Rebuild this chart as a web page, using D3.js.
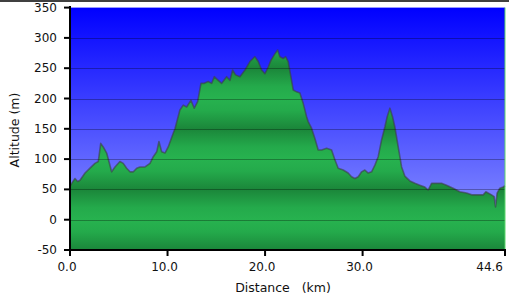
<!DOCTYPE html>
<html>
<head>
<meta charset="utf-8">
<script src="https://cdn.jsdelivr.net/npm/d3@7"></script>
<style>
  html, body { margin: 0; padding: 0; background: #fff; }
  svg { display: block; font-family: "DejaVu Sans", Verdana, sans-serif; }
</style>
</head>
<body>
<div id="chart"></div>
<script>
// Chart size and plot box
const width = 509;
const height = 301;
const marginLeft = 70;
const marginRight = 4;
const plotTop = 7.6;
const plotBottom = 250;

// Profile data: distance (km) and altitude (m)
const distKm = [0.0, 0.17, 0.51, 0.79, 1.02, 1.54, 2.05, 2.56, 2.90, 3.15, 3.41, 3.76, 4.27, 4.61, 5.12, 5.46, 5.81, 6.15, 6.49, 6.84,
  7.17, 7.69, 8.20, 8.54, 8.89, 9.12, 9.40, 9.74, 10.07, 10.59, 10.76, 11.27, 11.61, 11.96, 12.40, 12.74, 13.09, 13.43, 13.76, 14.17,
  14.52, 14.79, 15.20, 15.55, 16.06, 16.40, 16.67, 16.98, 17.42, 17.94, 18.45, 18.96, 19.30, 19.65, 19.99, 20.32, 20.60, 20.94, 21.29, 21.52,
  21.86, 22.11, 22.37, 22.65, 22.89, 23.23, 23.57, 23.91, 24.26, 24.42, 24.77, 25.11, 25.45, 25.80, 26.31, 26.82, 27.16, 27.50, 28.01, 28.52,
  28.87, 29.21, 29.55, 29.90, 30.23, 30.57, 30.92, 31.26, 31.60, 31.95, 32.28, 32.52, 32.80, 33.07, 33.31, 33.65, 34.00, 34.33, 34.85, 35.36,
  35.87, 36.38, 36.72, 37.07, 37.58, 38.09, 38.61, 39.28, 39.97, 40.66, 41.19, 41.85, 42.36, 42.64, 42.87, 43.22, 43.49, 43.63, 43.79, 44.07,
  44.41, 44.6];
const altM = [55, 60, 68, 63, 65, 77, 85, 93, 96, 126, 120, 110, 79, 87, 96, 93, 85, 79, 79, 85,
  87, 87, 93, 104, 112, 129, 112, 110, 120, 143, 150, 181, 189, 186, 197, 184, 195, 225, 225, 228,
  225, 236, 230, 225, 236, 230, 247, 239, 236, 247, 261, 269, 261, 247, 241, 252, 263, 272, 280, 269,
  266, 269, 261, 236, 214, 211, 209, 192, 170, 162, 151, 134, 115, 115, 118, 115, 99, 85, 82, 77,
  71, 68, 71, 79, 82, 77, 79, 90, 104, 132, 153, 170, 184, 170, 153, 120, 87, 72, 64, 60,
  57, 54, 49, 60, 60, 60, 57, 52, 46, 44, 41, 41, 41, 46, 44, 41, 38, 21, 44, 52,
  54, 56];

// Axis ticks
const xTicks = [0, 10, 20, 30, 44.6];
const yTicks = [-50, 0, 50, 100, 150, 200, 250, 300, 350];

const points = distKm.map((d, i) => ({ km: d, alt: altM[i] }));

const x = d3.scaleLinear().domain([0, 44.6]).range([marginLeft, width - marginRight]);
const y = d3.scaleLinear().domain([-50, 350]).range([plotBottom, plotTop]);

const svg = d3.select("#chart")
  .append("svg")
  .attr("width", width)
  .attr("height", height);

const defs = svg.append("defs");

// sky gradient
const sky = defs.append("linearGradient")
  .attr("id", "sky")
  .attr("gradientUnits", "userSpaceOnUse")
  .attr("x1", 0).attr("x2", 0)
  .attr("y1", plotTop).attr("y2", plotBottom);
sky.append("stop").attr("offset", 0).attr("stop-color", "#0000ff");
sky.append("stop").attr("offset", 1).attr("stop-color", "#9aa3ff");

// green bands, repeating every 100 m
const ground = defs.append("linearGradient")
  .attr("id", "ground")
  .attr("gradientUnits", "userSpaceOnUse")
  .attr("spreadMethod", "repeat")
  .attr("x1", 0).attr("x2", 0)
  .attr("y1", y(0)).attr("y2", y(-100));
ground.append("stop").attr("offset", 0).attr("stop-color", "#27b24f");
ground.append("stop").attr("offset", 0.2).attr("stop-color", "#24aa4b");
ground.append("stop").attr("offset", 0.5).attr("stop-color", "#1b863a");
ground.append("stop").attr("offset", 0.8).attr("stop-color", "#24aa4b");
ground.append("stop").attr("offset", 1).attr("stop-color", "#27b24f");

// border line on top
svg.append("line")
  .attr("x1", 0).attr("x2", width)
  .attr("y1", 1).attr("y2", 1)
  .style("stroke", "#000")
  .style("stroke-width", 1.5);

// plot background
svg.append("rect")
  .attr("x", x(0))
  .attr("y", plotTop)
  .attr("width", x(44.6) - x(0))
  .attr("height", plotBottom - plotTop)
  .attr("fill", "url(#sky)");

// filled profile
const area = d3.area()
  .x(d => x(d.km))
  .y0(y(-50))
  .y1(d => y(d.alt));

svg.append("path")
  .datum(points)
  .attr("d", area)
  .attr("fill", "url(#ground)");

const line = d3.line()
  .x(d => x(d.km))
  .y(d => y(d.alt));

svg.append("path")
  .datum(points)
  .attr("d", line)
  .attr("fill", "none")
  .style("stroke", "rgba(60,60,70,0.6)")
  .style("stroke-width", 1.6)
  .style("stroke-linejoin", "round");

// grid lines
svg.selectAll("line.grid")
  .data(yTicks.filter(d => d > -50 && d < 350))
  .enter()
  .append("line")
  .attr("class", "grid")
  .attr("x1", x(0))
  .attr("x2", x(44.6))
  .attr("y1", d => Math.round(y(d)) + 0.5)
  .attr("y2", d => Math.round(y(d)) + 0.5)
  .style("stroke", "rgba(0,0,0,0.3)")
  .style("stroke-width", 1);

// right edge
svg.append("line")
  .attr("x1", x(44.6)).attr("x2", x(44.6))
  .attr("y1", plotTop).attr("y2", plotBottom)
  .style("stroke", "#5cd66c")
  .style("stroke-width", 1);

// y axis
svg.append("line")
  .attr("x1", x(0)).attr("x2", x(0))
  .attr("y1", 6).attr("y2", plotBottom + 1)
  .style("stroke", "#000")
  .style("stroke-width", 2);

svg.selectAll("line.ytick")
  .data(yTicks)
  .enter()
  .append("line")
  .attr("class", "ytick")
  .attr("x1", x(0) - 6).attr("x2", x(0))
  .attr("y1", d => y(d)).attr("y2", d => y(d))
  .style("stroke", "#000")
  .style("stroke-width", 2);

svg.selectAll("text.ylab")
  .data(yTicks)
  .enter()
  .append("text")
  .attr("class", "ylab")
  .attr("x", 57)
  .attr("y", d => y(d) + 4)
  .attr("text-anchor", "end")
  .style("font-size", "12px")
  .style("fill", "#111")
  .text(d => d);

// x axis
svg.append("line")
  .attr("x1", x(0) - 1).attr("x2", x(44.6) + 1)
  .attr("y1", plotBottom).attr("y2", plotBottom)
  .style("stroke", "#000")
  .style("stroke-width", 2);

svg.selectAll("line.xtick")
  .data(xTicks)
  .enter()
  .append("line")
  .attr("class", "xtick")
  .attr("x1", d => x(d)).attr("x2", d => x(d))
  .attr("y1", plotBottom - 1).attr("y2", plotBottom + 6)
  .style("stroke", "#000")
  .style("stroke-width", 2);

svg.selectAll("text.xlab")
  .data(xTicks)
  .enter()
  .append("text")
  .attr("class", "xlab")
  .attr("x", (d, i) => i === xTicks.length - 1 ? x(d) - 2 : x(d) - 3)
  .attr("y", 271)
  .attr("text-anchor", (d, i) => i === xTicks.length - 1 ? "end" : "middle")
  .style("font-size", "12px")
  .style("fill", "#111")
  .text(d => d.toFixed(1));

// axis titles
svg.append("text")
  .attr("x", 283)
  .attr("y", 292)
  .attr("text-anchor", "middle")
  .style("font-size", "12.5px")
  .style("fill", "#111")
  .style("white-space", "pre")
  .attr("xml:space", "preserve")
  .text("Distance   (km)");

svg.append("text")
  .attr("transform", "translate(19,130) rotate(-90)")
  .attr("text-anchor", "middle")
  .style("font-size", "12.5px")
  .style("fill", "#111")
  .text("Altitude (m)");
</script>
</body>
</html>
